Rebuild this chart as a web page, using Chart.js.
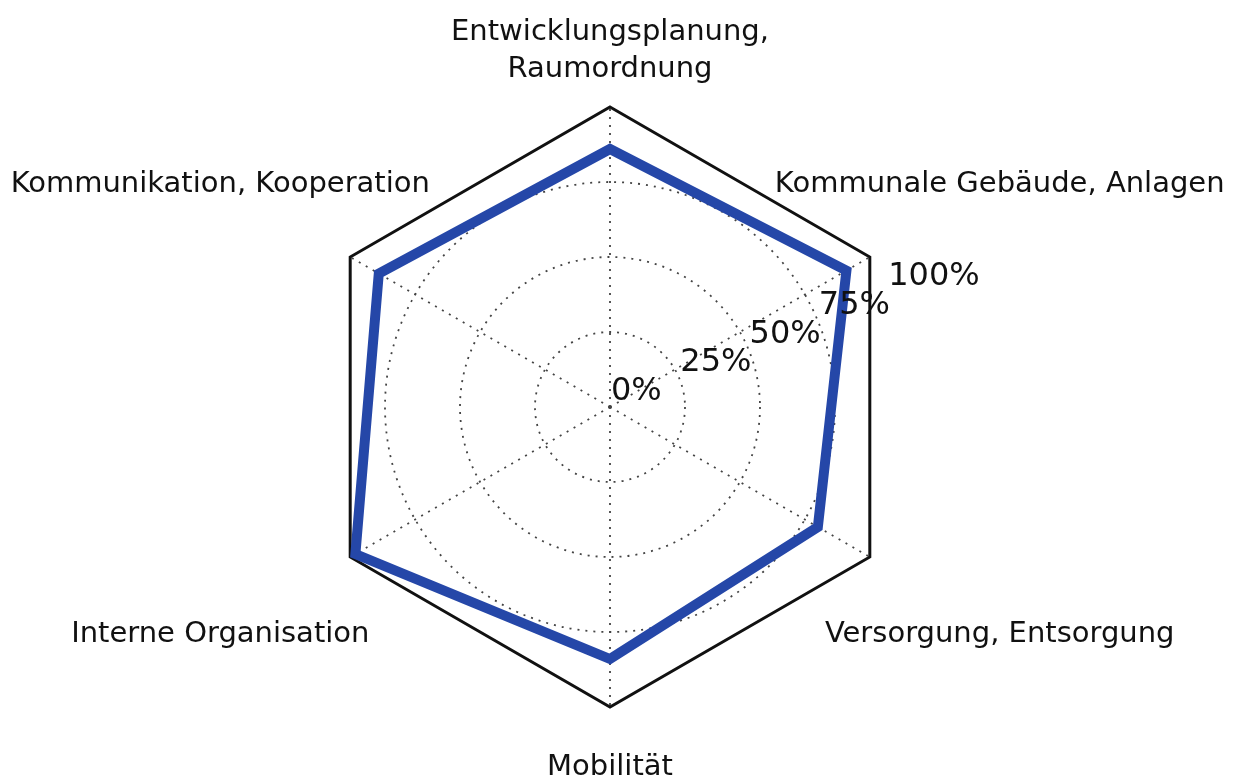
<!DOCTYPE html>
<html>
<head>
<meta charset="utf-8">
<script src="https://cdn.jsdelivr.net/npm/chart.js@4"></script>
<style>
  html, body { margin: 0; padding: 0; background: #fff; }
  #wrap { width: 1241px; height: 776px; }
</style>
</head>
<body>
<div id="wrap"><canvas id="radar" width="1241" height="776"></canvas></div>
<script>
// fields, clockwise from the top
const categories = [
  ['Entwicklungsplanung,', 'Raumordnung'],
  'Kommunale Gebäude, Anlagen',
  'Versorgung, Entsorgung',
  'Mobilität',
  'Interne Organisation',
  'Kommunikation, Kooperation'
];
// share reached per field (%)
const scores = [86, 91, 80, 84, 98, 89];
// radial ticks
const tickValues = [0, 25, 50, 75, 100];

const FONT = "'DejaVu Sans', sans-serif";

// outermost ring is the solid hexagon, the rest are dotted circles
const isOuter = c => !!(c && c.tick && c.tick.value === 100);

// tick labels along a ray 22.5deg above horizontal, anchored left/bottom
const tickLabelPlugin = {
  id: 'tickLabels',
  afterDatasetsDraw(chart) {
    const r = chart.scales.r;
    const ctx = chart.ctx;
    ctx.save();
    ctx.font = '32px ' + FONT;
    ctx.fillStyle = '#111';
    ctx.textAlign = 'left';
    ctx.textBaseline = 'alphabetic';
    const extra = 67.5 * Math.PI / 180;
    tickValues.forEach(v => {
      const p = r.getPointPosition(0, r.getDistanceFromCenterForValue(v), extra);
      ctx.fillText(v + '%', p.x + 1, p.y - 7);
    });
    ctx.restore();
  }
};

// category labels centred on each spoke
const axisLabelPlugin = {
  id: 'axisLabels',
  afterDraw(chart) {
    const r = chart.scales.r;
    const ctx = chart.ctx;
    const size = 29, lh = 37;
    ctx.save();
    ctx.font = size + 'px ' + FONT;
    ctx.fillStyle = '#111';
    ctx.textAlign = 'center';
    ctx.textBaseline = 'alphabetic';
    categories.forEach((lab, i) => {
      const lines = [].concat(lab);
      const side = Math.abs(Math.sin(r.getIndexAngle(i))) > 0.1;
      const p = r.getPointPosition(i, r.drawingArea * (side ? 1.5 : 1.195));
      const top = p.y - (lines.length - 1) * lh / 2;
      lines.forEach((t, k) => ctx.fillText(t, p.x, top + k * lh + 0.365 * size - 1));
    });
    ctx.restore();
  }
};

new Chart(document.getElementById('radar'), {
  type: 'radar',
  data: {
    labels: categories,
    datasets: [{
      data: scores,
      borderColor: '#2547a8',
      borderWidth: 10,
      fill: false,
      pointRadius: 0,
      pointHoverRadius: 0
    }]
  },
  options: {
    responsive: false,
    animation: false,
    layout: { padding: { top: 107, bottom: 69, left: 10, right: 31 } },
    plugins: { legend: { display: false }, tooltip: { enabled: false } },
    scales: {
      r: {
        min: 0,
        max: 100,
        ticks: { stepSize: 25, display: false },
        pointLabels: { display: false },
        angleLines: { color: '#444', lineWidth: 1.8, borderDash: [2, 6] },
        grid: {
          circular: c => !isOuter(c),
          color: c => isOuter(c) ? '#111' : '#444',
          lineWidth: c => isOuter(c) ? 3 : 1.8
        },
        border: { dash: c => isOuter(c) ? [] : [2, 6] }
      }
    }
  },
  plugins: [axisLabelPlugin, tickLabelPlugin]
});
</script>
</body>
</html>
